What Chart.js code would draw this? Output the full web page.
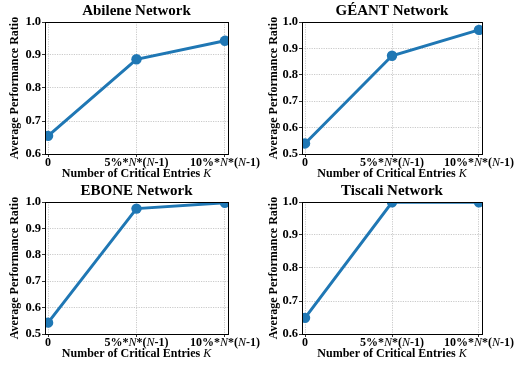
<!DOCTYPE html>
<html>
<head>
<meta charset="utf-8">
<script src="https://cdn.jsdelivr.net/npm/chart.js@4.4.1/dist/chart.umd.min.js"></script>
<style>
  body { margin: 0; background: #fff; }
  #wrap { position: relative; width: 519px; height: 365px; overflow: hidden; }
  #wrap canvas { position: absolute; }
</style>
</head>
<body>
<div id="wrap">
  <canvas id="c0" width="262" height="182" style="left:0;top:0"></canvas>
  <canvas id="c1" width="260" height="182" style="left:259px;top:0"></canvas>
  <canvas id="c2" width="262" height="182" style="left:0;top:180px"></canvas>
  <canvas id="c3" width="260" height="182" style="left:259px;top:180px"></canvas>
</div>
<script>
const networks = ['Abilene Network', 'GÉANT Network', 'EBONE Network', 'Tiscali Network'];
const xTickLabels = ['0', '5%*N*(N-1)', '10%*N*(N-1)'];
const xTitle = 'Number of Critical Entries K';
const yTitle = 'Average Performance Ratio';
const abileneRatio = [0.655, 0.887, 0.943];
const geantRatio = [0.540, 0.872, 0.970];
const eboneRatio = [0.543, 0.975, 0.997];
const tiscaliRatio = [0.649, 0.999, 0.999];
const yMins = [0.6, 0.5, 0.5, 0.6];
const yMax = 1.0;

const seriesList = [abileneRatio, geantRatio, eboneRatio, tiscaliRatio];
// per panel: y-axis width and right padding so the boxes line up with the reference
const panelLayout = [
  { yWidth: 37, right: 34 },
  { yWidth: 35, right: 37 },
  { yWidth: 37, right: 34 },
  { yWidth: 35, right: 37 }
];

const SERIF = "'Liberation Serif', 'Times New Roman', serif";
const BLUE = '#1f77b4';

// draws text where the listed letters are italic (like matplotlib mathtext)
function drawMixed(ctx, text, cx, cy, italicChars) {
  const parts = [];
  for (const ch of text) {
    const it = italicChars.includes(ch);
    const last = parts[parts.length - 1];
    if (last && last.it === it) last.s += ch;
    else parts.push({ s: ch, it });
  }
  const fontFor = (p) => (p.it ? `italic 12px ${SERIF}` : `bold 12px ${SERIF}`);
  let total = 0;
  parts.forEach((p) => {
    ctx.font = fontFor(p);
    p.w = ctx.measureText(p.s).width;
    total += p.w;
  });
  let x = cx - total / 2;
  ctx.textAlign = 'left';
  ctx.textBaseline = 'middle';
  ctx.fillStyle = '#000';
  parts.forEach((p) => {
    ctx.font = fontFor(p);
    ctx.fillText(p.s, x, cy);
    x += p.w;
  });
}

const framePlugin = {
  id: 'frame',
  afterDraw(chart) {
    const { ctx, chartArea } = chart;
    ctx.save();
    ctx.strokeStyle = '#000';
    ctx.lineWidth = 1;
    ctx.strokeRect(Math.round(chartArea.left) + 0.5, Math.round(chartArea.top) + 0.5,
      Math.round(chartArea.right - chartArea.left), Math.round(chartArea.bottom - chartArea.top));
    const xs = chart.scales.x;
    xTickLabels.forEach((label, i) => {
      drawMixed(ctx, label, xs.getPixelForValue(i), chartArea.bottom + 9, ['N']);
    });
    drawMixed(ctx, xTitle, (chartArea.left + chartArea.right) / 2, chartArea.bottom + 20, ['K']);
    ctx.restore();
  }
};

function makeChart(idx) {
  const canvas = document.getElementById('c' + idx);
  const values = seriesList[idx];
  const lay = panelLayout[idx];
  return new Chart(canvas.getContext('2d'), {
    type: 'line',
    data: {
      datasets: [{
        data: values.map((v, i) => ({ x: i, y: v })),
        borderColor: BLUE,
        backgroundColor: BLUE,
        borderWidth: 3,
        pointRadius: 5.2,
        pointHoverRadius: 5.2,
        pointBorderWidth: 0,
        tension: 0,
        clip: 0
      }]
    },
    options: {
      responsive: false,
      animation: false,
      events: [],
      layout: { padding: { left: 8, right: lay.right, top: 0, bottom: 0 } },
      plugins: {
        legend: { display: false },
        tooltip: { enabled: false },
        title: {
          display: true,
          fullSize: false,
          text: networks[idx],
          color: '#000',
          font: { family: SERIF, size: 15, weight: 'bold', lineHeight: 1.2 },
          padding: { top: 2, bottom: 2 }
        }
      },
      scales: {
        x: {
          type: 'linear',
          min: -0.035,
          max: 2.035,
          afterBuildTicks(scale) {
            scale.ticks = xTickLabels.map((_, i) => ({ value: i }));
          },
          afterFit(scale) {
            scale.height = 28;
            scale.paddingLeft = 0;
            scale.paddingRight = 0;
          },
          ticks: { display: false },
          grid: { color: '#bdbdbd', lineWidth: 0.8, tickLength: 3, tickColor: '#000' },
          border: { display: false, dash: [1.2, 1.2] }
        },
        y: {
          min: yMins[idx],
          max: yMax,
          afterFit(scale) {
            scale.width = lay.yWidth;
            scale.paddingTop = 0;
            scale.paddingBottom = 0;
          },
          ticks: {
            stepSize: 0.1,
            padding: 1,
            color: '#000',
            font: { family: SERIF, size: 12.5, weight: 'bold' },
            callback: (v) => Number(v).toFixed(1)
          },
          title: {
            display: true,
            text: yTitle,
            color: '#000',
            padding: 0,
            font: { family: SERIF, size: 12, weight: 'bold' }
          },
          grid: { color: '#bdbdbd', lineWidth: 0.8, tickLength: 3, tickColor: '#000' },
          border: { display: false, dash: [1.2, 1.2] }
        }
      }
    },
    plugins: [framePlugin]
  });
}

[0, 1, 2, 3].forEach(makeChart);
</script>
</body>
</html>
